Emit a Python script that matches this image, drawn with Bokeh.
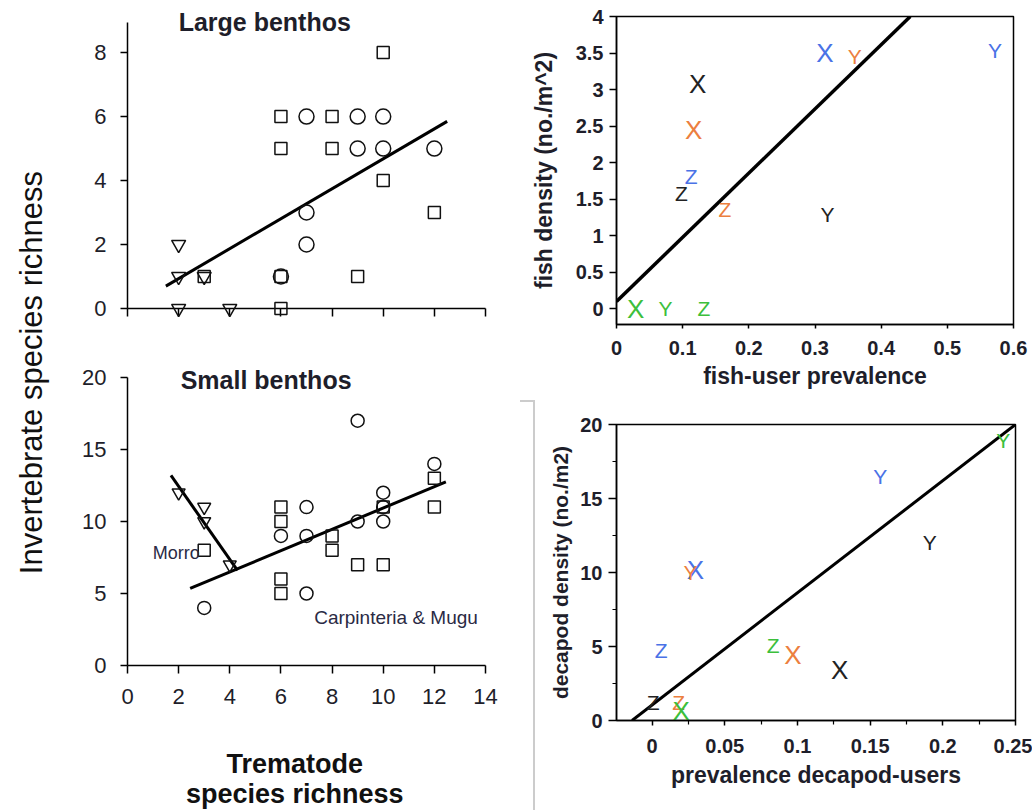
import numpy as np
from bokeh.plotting import figure
from bokeh.layouts import row, column
from bokeh.models import ColumnDataSource, Range1d, FixedTicker, Div, NumeralTickFormatter
from bokeh.core.properties import value
from bokeh.embed import file_html
from bokeh.resources import INLINE

FONT = "Liberation Sans"
INK = "#1e1e2a"
PALETTE = {"black": "#222222", "orange": "#ec7f3f", "blue": "#4a72e6", "green": "#3cbf3c"}

# ---------------- data: Large benthos ----------------
lb_sq_x = [3, 6, 6, 6, 6, 8, 8, 9, 10, 10, 12]
lb_sq_y = [1, 6, 5, 1, 0, 6, 5, 1, 8, 4, 3]
lb_ci_x = [6, 7, 7, 7, 9, 9, 10, 10, 12]
lb_ci_y = [1, 6, 3, 2, 6, 5, 6, 5, 5]
lb_tr_x = [2, 2, 2, 3, 4]
lb_tr_y = [2, 1, 0, 1, 0]
lb_fit_x = [1.5, 12.5]
lb_fit_y = [0.7, 5.85]

# ---------------- data: Small benthos ----------------
sb_sq_x = [3, 6, 6, 6, 6, 8, 8, 9, 10, 10, 12, 12]
sb_sq_y = [8, 11, 10, 6, 5, 9, 8, 7, 7, 11, 13, 11]
sb_ci_x = [3, 6, 7, 7, 7, 9, 9, 10, 10, 10, 12]
sb_ci_y = [4, 9, 11, 9, 5, 17, 10, 12, 11, 10, 14]
sb_tr_x = [2, 3, 3, 4]
sb_tr_y = [12, 11, 10, 7]
morro_fit_x = [1.7, 4.3]
morro_fit_y = [13.2, 6.6]
cm_fit_x = [2.45, 12.45]
cm_fit_y = [5.35, 12.75]

left_x_ticks = [0, 2, 4, 6, 8, 10, 12, 14]
lb_y_ticks = [0, 2, 4, 6, 8]
sb_y_ticks = [0, 5, 10, 15, 20]

# ---------------- data: fish ----------------
fish_prev = [0.315, 0.36, 0.572, 0.1225, 0.1165, 0.113, 0.098, 0.164, 0.319, 0.029, 0.074, 0.132]
fish_dens = [3.5, 3.45, 3.54, 3.07, 2.44, 1.81, 1.58, 1.36, 1.29, 0.0, 0.0, 0.0]
fish_lab = ["X", "Y", "Y", "X", "X", "Z", "Z", "Z", "Y", "X", "Y", "Z"]
fish_grp = ["blue", "orange", "blue", "black", "orange", "blue", "black", "orange", "black", "green", "green", "green"]
fish_fit_x = [0.0, 0.444]
fish_fit_y = [0.1, 4.0]
fish_x_ticks = [0, 0.1, 0.2, 0.3, 0.4, 0.5, 0.6]
fish_y_ticks = [0, 0.5, 1, 1.5, 2, 2.5, 3, 3.5, 4]

# ---------------- data: decapods ----------------
dec_prev = [0.2415, 0.157, 0.191, 0.0298, 0.0264, 0.0062, 0.0833, 0.0968, 0.129, 0.0007, 0.0183, 0.020]
dec_dens = [18.9, 16.5, 12.05, 10.2, 10.0, 4.75, 5.1, 4.45, 3.4, 1.2, 1.25, 0.65]
dec_lab = ["Y", "Y", "Y", "X", "Y", "Z", "Z", "X", "X", "Z", "Z", "X"]
dec_grp = ["green", "blue", "black", "blue", "orange", "blue", "green", "orange", "black", "black", "orange", "green"]
dec_fit_x = [-0.0138, 0.25]
dec_fit_y = [0.0, 20.0]
dec_x_ticks = [0, 0.05, 0.1, 0.15, 0.2, 0.25]
dec_x_minor = [0.025, 0.075, 0.125, 0.175, 0.225]
dec_y_ticks = [0, 5, 10, 15, 20]
dec_y_minor = [2.5, 7.5, 12.5, 17.5]


def make_fig(width, height, xr, yr, left, right, top, bottom):
    p = figure(width=width, height=height, x_range=Range1d(*xr), y_range=Range1d(*yr),
               output_backend="svg", toolbar_location=None, tools="",
               min_border_left=left, min_border_right=right,
               min_border_top=top, min_border_bottom=bottom)
    p.grid.visible = False
    p.background_fill_color = "white"
    p.border_fill_color = "white"
    for ax in (p.xaxis[0], p.yaxis[0]):
        ax.axis_line_color = "black"
        ax.axis_line_width = 1.5
        ax.major_tick_line_color = "black"
        ax.major_tick_line_width = 1.5
        ax.major_tick_in = 0
        ax.minor_tick_line_color = None
        ax.major_label_text_font = FONT
        ax.major_label_text_color = INK
        ax.axis_label_text_font = FONT
        ax.axis_label_text_color = INK
    return p


def left_panel(p, xticks, yticks):
    p.outline_line_color = None
    p.xaxis.ticker = FixedTicker(ticks=xticks)
    p.yaxis.ticker = FixedTicker(ticks=yticks)
    p.xaxis.major_tick_out = 8
    p.yaxis.major_tick_out = 7
    p.yaxis.major_label_standoff = 14
    p.xaxis.major_label_standoff = 15
    p.axis.major_label_text_font_size = "22px"


def markers(p, sx, sy, cx, cy, tx, ty, sq, ci, tr):
    kw = dict(line_color="#111111", line_width=1.5, fill_color=None)
    rs = [p.scatter(sx, sy, marker="square", size=sq, **kw),
          p.scatter(cx, cy, marker="circle", size=ci, **kw),
          p.scatter(tx, ty, marker="inverted_triangle", size=tr, **kw)]
    for r in rs:
        r.level = "overlay"


def overlay_text(p, x, y, text, size, style="normal", align="left", color=INK):
    r = p.text(x=x, y=y, text=text, text_font=value(FONT), text_font_size=value(size),
               text_font_style=style, text_align=align, text_baseline="middle", text_color=color)
    r.level = "overlay"
    return r


# ---------------- big shared y label ----------------
lab = figure(width=58, height=810, x_range=Range1d(0, 1), y_range=Range1d(0, 1),
             output_backend="svg", toolbar_location=None, tools="", min_border=0,
             x_axis_type=None, y_axis_type=None)
lab.grid.visible = False
lab.outline_line_color = None
lab.text(x=[0.534], y=[0.5407], text=["Invertebrate species richness"], angle=np.pi / 2,
         text_align="center", text_baseline="middle", text_font=value(FONT),
         text_font_size=value("31px"), text_color="#111111")

# ---------------- Large benthos ----------------
tl = make_fig(462, 350, (0, 14), (0, 8.94), 69, 35, 22, 42)
left_panel(tl, left_x_ticks, lb_y_ticks)
tl.xaxis.major_label_overrides = {t: "" for t in left_x_ticks}
markers(tl, lb_sq_x, lb_sq_y, lb_ci_x, lb_ci_y, lb_tr_x, lb_tr_y, 12, 15, 14)
tl.line(lb_fit_x, lb_fit_y, line_color="black", line_width=3)
overlay_text(tl, [2.0], [8.97], ["Large benthos"], "25px", "bold")

# ---------------- Small benthos ----------------
bl = make_fig(462, 460, (0, 14), (0, 20), 69, 35, 27, 145)
left_panel(bl, left_x_ticks, sb_y_ticks)
markers(bl, sb_sq_x, sb_sq_y, sb_ci_x, sb_ci_y, sb_tr_x, sb_tr_y, 12, 13, 13)
bl.line(morro_fit_x, morro_fit_y, line_color="black", line_width=3)
bl.line(cm_fit_x, cm_fit_y, line_color="black", line_width=3)
overlay_text(bl, [2.08], [19.8], ["Small benthos"], "25px", "bold")
overlay_text(bl, [0.99], [7.78], ["Morro"], "18px", color="#2a2a44")
overlay_text(bl, [7.3], [3.33], ["Carpinteria & Mugu"], "19px", color="#2a2a44")
overlay_text(bl, [6.54, 6.54], [-6.81, -8.89], ["Trematode", "species richness"], "27px", "bold",
             align="center", color="#111111")

# ---------------- fish ----------------
fsrc = ColumnDataSource(dict(x=fish_prev, y=fish_dens, t=fish_lab,
                             c=[PALETTE[g] for g in fish_grp],
                             s=["26px" if l == "X" else "21px" for l in fish_lab]))
tr = make_fig(512, 400, (0, 0.6), (-0.215, 4.0), 96, 19, 16, 76)
tr.outline_line_color = "black"
tr.outline_line_width = 1.5
tr.xaxis.ticker = FixedTicker(ticks=fish_x_ticks)
tr.yaxis.ticker = FixedTicker(ticks=fish_y_ticks)
tr.axis.formatter = NumeralTickFormatter(format="0.[00]")
tr.axis.major_label_text_font_size = "20px"
tr.axis.major_label_text_font_style = "bold"
tr.xaxis.major_tick_out = 4
tr.yaxis.major_tick_out = 7
tr.xaxis.major_label_standoff = 12
tr.yaxis.major_label_standoff = 6
tr.xaxis.axis_label = "fish-user prevalence"
tr.yaxis.axis_label = "fish density (no./m^2)"
tr.xaxis.axis_label_text_font_size = "23px"
tr.yaxis.axis_label_text_font_size = "23px"
tr.axis.axis_label_text_font_style = "bold"
tr.xaxis.axis_label_standoff = 5
tr.yaxis.axis_label_standoff = 16
tr.line(fish_fit_x, fish_fit_y, line_color="black", line_width=3.5)
tr.text(x="x", y="y", text="t", text_color="c", text_font_size="s", source=fsrc,
        text_font=value(FONT), text_align="center", text_baseline="middle")

# ---------------- decapods ----------------
dsrc = ColumnDataSource(dict(x=dec_prev, y=dec_dens, t=dec_lab,
                             c=[PALETTE[g] for g in dec_grp],
                             s=["26px" if l == "X" else "21px" for l in dec_lab]))
br = make_fig(497, 410, (-0.0245, 0.25), (0, 20), 81, 17, 24, 90)
br.outline_line_color = "black"
br.outline_line_width = 1.5
br.xaxis.ticker = FixedTicker(ticks=dec_x_ticks, minor_ticks=dec_x_minor)
br.yaxis.ticker = FixedTicker(ticks=dec_y_ticks, minor_ticks=dec_y_minor)
br.axis.formatter = NumeralTickFormatter(format="0.[00]")
br.axis.minor_tick_line_color = "black"
br.axis.minor_tick_line_width = 1.2
br.axis.minor_tick_in = 0
br.axis.minor_tick_out = 4
br.axis.major_label_text_font_size = "20px"
br.axis.major_label_text_font_style = "bold"
br.xaxis.major_tick_out = 5
br.yaxis.major_tick_out = 8
br.xaxis.major_label_standoff = 13
br.yaxis.major_label_standoff = 6
br.xaxis.axis_label = "prevalence decapod-users"
br.yaxis.axis_label = "decapod density (no./m2)"
br.xaxis.axis_label_text_font_size = "23px"
br.yaxis.axis_label_text_font_size = "21px"
br.axis.axis_label_text_font_style = "bold"
br.xaxis.axis_label_standoff = 6
br.yaxis.axis_label_standoff = 5
br.line(dec_fit_x, dec_fit_y, line_color="black", line_width=3)
br.text(x="x", y="y", text="t", text_color="c", text_font_size="s", source=dsrc,
        text_font=value(FONT), text_align="center", text_baseline="middle")

frame_div = Div(text="", width=15, height=410, margin=0,
                styles={"border-top": "2px solid #cccccc", "border-right": "2px solid #cccccc",
                        "box-sizing": "border-box"})

layout = row(lab, column(tl, bl), column(tr, row(frame_div, br)))

with open("out.html", "w") as f:
    f.write(file_html(layout, INLINE))
